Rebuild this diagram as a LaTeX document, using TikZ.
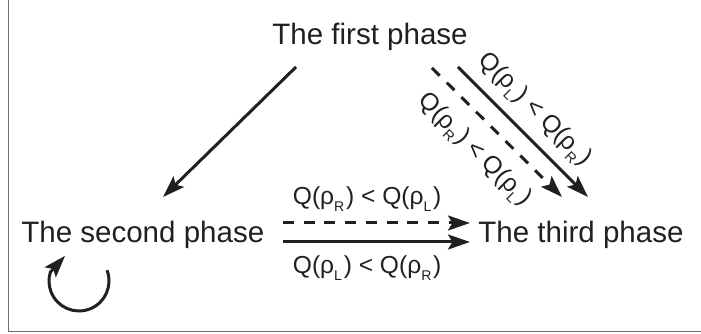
\documentclass[tikz,border=0pt]{standalone}
\usepackage{fontspec}
\setmainfont{Liberation Sans}
\usepackage{xcolor}
\definecolor{phink}{HTML}{231F20}
\definecolor{phgrey}{HTML}{6D6E71}
\usepackage{tikz}
\usetikzlibrary{arrows.meta,positioning,calc}
\tikzset{
  phnode/.style  ={inner sep=0pt, font=\fontsize{16.8}{20}\selectfont, text=phink},
  phlbl/.style   ={inner sep=0pt, font=\fontsize{14}{16}\selectfont, text=phink},
  pharrow/.style ={-{Stealth[length=12.5pt,width=8.5pt,inset=2.5pt]}, line width=1.7pt, draw=phink},
  phdashed/.style={pharrow, dash pattern=on 6.2pt off 5.6pt},
  phborder/.style={draw=phgrey, line width=1.1pt},
}
\newcommand{\phsub}[1]{\raisebox{-0.28em}{\fontsize{8}{9}\selectfont#1}\kern1pt}

\begin{document}
\begin{tikzpicture}
  \useasboundingbox (0,0) rectangle (14.02,6.68);
  \draw[phborder] (0.17,6.68) |- (14.02,0.05);
  \node[phnode, anchor=base] (first) at (7.40,5.78) {The first phase};
  \node[phnode, anchor=base west] (second) at (0.42,1.82) {The second phase};
  \node[phnode, anchor=base west] (third) at (9.56,1.82) {The third phase};
  % first -> second
  \draw[pharrow] ([shift={(-1.48,-0.44)}]first.base) -- ([shift={(2.84,0.92)}]second.base west);
  % first -> third
  \draw[pharrow] ([shift={(1.76,-0.44)}]first.base) -- ([shift={(2.20,0.92)}]third.base west)
    node[phlbl, pos=0.46, sloped, above=0.19cm] {Q(ρ\phsub{L}) < Q(ρ\phsub{R})};
  \draw[phdashed] ([shift={(1.24,-0.46)}]first.base) -- ([shift={(1.68,0.92)}]third.base west)
    node[phlbl, pos=0.48, sloped, below=0.3cm] {Q(ρ\phsub{R}) < Q(ρ\phsub{L})};
  % second -> third
  \draw[phdashed] ([shift={(5.24,0.40)}]second.base west) -- ([shift={(-0.16,0.40)}]third.base west)
    node[phlbl, pos=0.45, above=0.2cm] {Q(ρ\phsub{R}) < Q(ρ\phsub{L})};
  \draw[pharrow] ([shift={(5.24,0.02)}]second.base west) -- ([shift={(-0.16,0.02)}]third.base west)
    node[phlbl, pos=0.45, below=0.25cm] {Q(ρ\phsub{L}) < Q(ρ\phsub{R})};
  % second stays
  \coordinate (loop) at ([shift={(1.16,-0.76)}]second.base west);
  \draw[pharrow] ([shift={(21:0.60)}]loop) arc[start angle=21, end angle=-197, radius=0.60]
    -- ++(48:0.44);
\end{tikzpicture}
\end{document}
